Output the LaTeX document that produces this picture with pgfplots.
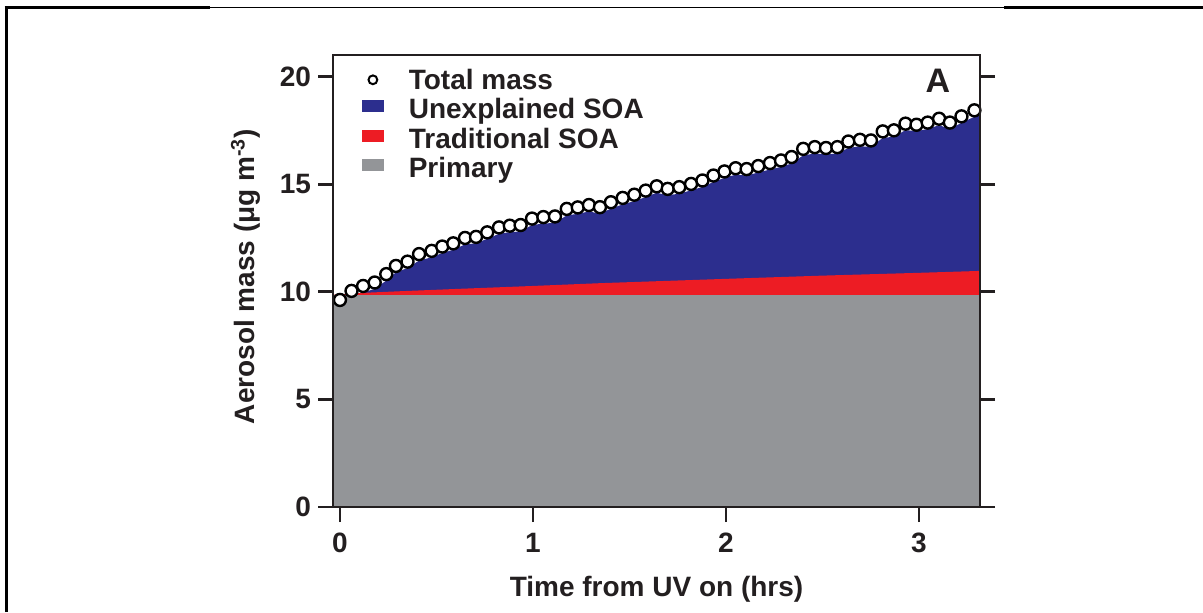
\documentclass[border=0pt]{standalone}
\usepackage{fontspec}
\setmainfont{Liberation Sans}
\usepackage{pgfplots}
\pgfplotsset{compat=1.18}
\definecolor{soablue}{RGB}{44,46,142}
\definecolor{soared}{RGB}{237,28,36}
\definecolor{primgray}{RGB}{147,149,152}
\definecolor{ink}{RGB}{35,31,32}
\begin{document}
\begin{tikzpicture}
\useasboundingbox (0pt,0pt) rectangle (601.5pt,306pt);
\draw[line width=1.5pt] (3pt,0pt) -- (3pt,302.25pt);
\draw[line width=1.5pt] (2.25pt,302.25pt) -- (105pt,302.25pt);
\draw[line width=0.75pt] (105pt,302.25pt) -- (502pt,302.25pt);
\draw[line width=1.5pt] (502pt,302.25pt) -- (601.5pt,302.25pt);
\begin{axis}[
  at={(166.5pt,52.5pt)}, anchor=south west,
  scale only axis, width=323.5pt, height=226pt,
  xmin=-0.036, xmax=3.316, ymin=0, ymax=21,
  axis on top, clip mode=individual,
  xtick={0,1,2,3}, ytick={0,5,10,15,20},
  xtick pos=left, ytick pos=both,
  tick align=outside, major tick length=7.5pt,
  axis line style={line width=1.4pt, ink},
  every tick/.style={line width=1.4pt, ink},
  /pgf/number format/assume math mode=true,
  tick label style={font=\fontsize{14}{16}\selectfont\bfseries, text=ink},
  xticklabel style={yshift=-2pt},
  label style={font=\fontsize{14}{16}\selectfont\bfseries, text=ink},
  xlabel={Time from UV on (hrs)},
  ylabel={Aerosol mass (μg m\textsuperscript{-3})},
  xlabel style={at={(axis description cs:0.5,-0.199)}, anchor=base},
  ylabel style={at={(axis description cs:-0.1206,0.51)}, anchor=base},
  legend cell align=left,
  legend style={at={(0,1)}, anchor=north west, xshift=14.5pt, yshift=-6.5pt,
    draw=none, fill=none, inner sep=0pt, outer sep=0pt, row sep=0pt, column sep=12.5pt,
    font=\fontsize{14}{16}\selectfont\bfseries, text=ink,
    nodes={inner sep=0pt, text height=10.5pt, text depth=4.3pt}},
]
% Unexplained SOA (top of stacked area)
\addplot[fill=soablue, draw=none, forget plot] coordinates {
(-0.04,9.30) (0,9.32) (0.06,9.74) (0.12,9.97) (0.18,10.13) (0.24,10.52) (0.29,10.90)
(0.35,11.10) (0.41,11.45) (0.475,11.60) (0.53,11.80) (0.587,11.95) (0.648,12.20)
(0.705,12.25) (0.763,12.46) (0.824,12.69) (0.88,12.77) (0.936,12.80) (0.995,13.10)
(1.054,13.17) (1.114,13.20) (1.175,13.55) (1.232,13.62) (1.29,13.73) (1.347,13.63)
(1.404,13.86) (1.465,14.06) (1.525,14.21) (1.584,14.40) (1.641,14.60) (1.698,14.48)
(1.758,14.56) (1.819,14.71) (1.878,14.87) (1.935,15.10) (1.992,15.29) (2.05,15.44)
(2.107,15.40) (2.167,15.54) (2.228,15.68) (2.285,15.80) (2.34,15.96) (2.40,16.34)
(2.46,16.42) (2.518,16.38) (2.577,16.42) (2.634,16.68) (2.694,16.76) (2.751,16.73)
(2.812,17.15) (2.87,17.20) (2.93,17.51) (2.987,17.46) (3.045,17.56) (3.104,17.74)
(3.16,17.56) (3.22,17.85) (3.287,18.13) (3.32,18.25)
} \closedcycle;
% Traditional SOA (top = primary + traditional)
\addplot[fill=soared, draw=none, forget plot] coordinates {
(-0.04,9.86) (0,9.87) (0.12,9.95) (0.3,10.02) (0.6,10.13) (1.0,10.27) (1.35,10.40)
(2.0,10.60) (2.5,10.75) (3.0,10.88) (3.32,10.97)
} \closedcycle;
% Primary
\addplot[fill=primgray, draw=none, forget plot] coordinates {
(-0.04,9.85) (3.32,9.85)
} \closedcycle;
% Total mass
\addplot[only marks, mark=*, mark size=3pt,
  mark options={fill=white, draw=black, line width=1.2pt}, forget plot] coordinates {
(0.000,9.62) (0.060,10.04) (0.120,10.27) (0.180,10.43) (0.240,10.82) (0.290,11.20)
(0.350,11.40) (0.410,11.75) (0.475,11.90) (0.530,12.10) (0.587,12.25) (0.648,12.50)
(0.705,12.55) (0.763,12.76) (0.824,12.99) (0.880,13.07) (0.936,13.10) (0.995,13.40)
(1.054,13.47) (1.114,13.50) (1.175,13.85) (1.232,13.92) (1.290,14.03) (1.347,13.93)
(1.404,14.16) (1.465,14.36) (1.525,14.51) (1.584,14.70) (1.641,14.90) (1.698,14.78)
(1.758,14.86) (1.819,15.01) (1.878,15.17) (1.935,15.40) (1.992,15.59) (2.050,15.74)
(2.107,15.70) (2.167,15.84) (2.228,15.98) (2.285,16.10) (2.340,16.26) (2.400,16.64)
(2.460,16.72) (2.518,16.68) (2.577,16.72) (2.634,16.98) (2.694,17.06) (2.751,17.03)
(2.812,17.45) (2.870,17.50) (2.930,17.81) (2.987,17.76) (3.045,17.86) (3.104,18.04)
(3.160,17.86) (3.220,18.15) (3.287,18.43)
};
\addlegendimage{legend image code/.code={\draw[black, line width=1pt, fill=white] (5.25pt,1.5pt) circle (2.2pt);}}
\addlegendimage{legend image code/.code={\fill[soablue] (0pt,0.5pt) rectangle (10.5pt,6pt);}}
\addlegendimage{legend image code/.code={\fill[soared] (0pt,0.5pt) rectangle (10.5pt,6pt);}}
\addlegendimage{legend image code/.code={\fill[primgray] (0pt,0.5pt) rectangle (10.5pt,6pt);}}
\legend{Total mass, Unexplained SOA, Traditional SOA, Primary}
\node[font=\fontsize{17}{20}\selectfont\bfseries, text=ink] at (rel axis cs:0.935,0.942) {A};
\end{axis}
\end{tikzpicture}
\end{document}
